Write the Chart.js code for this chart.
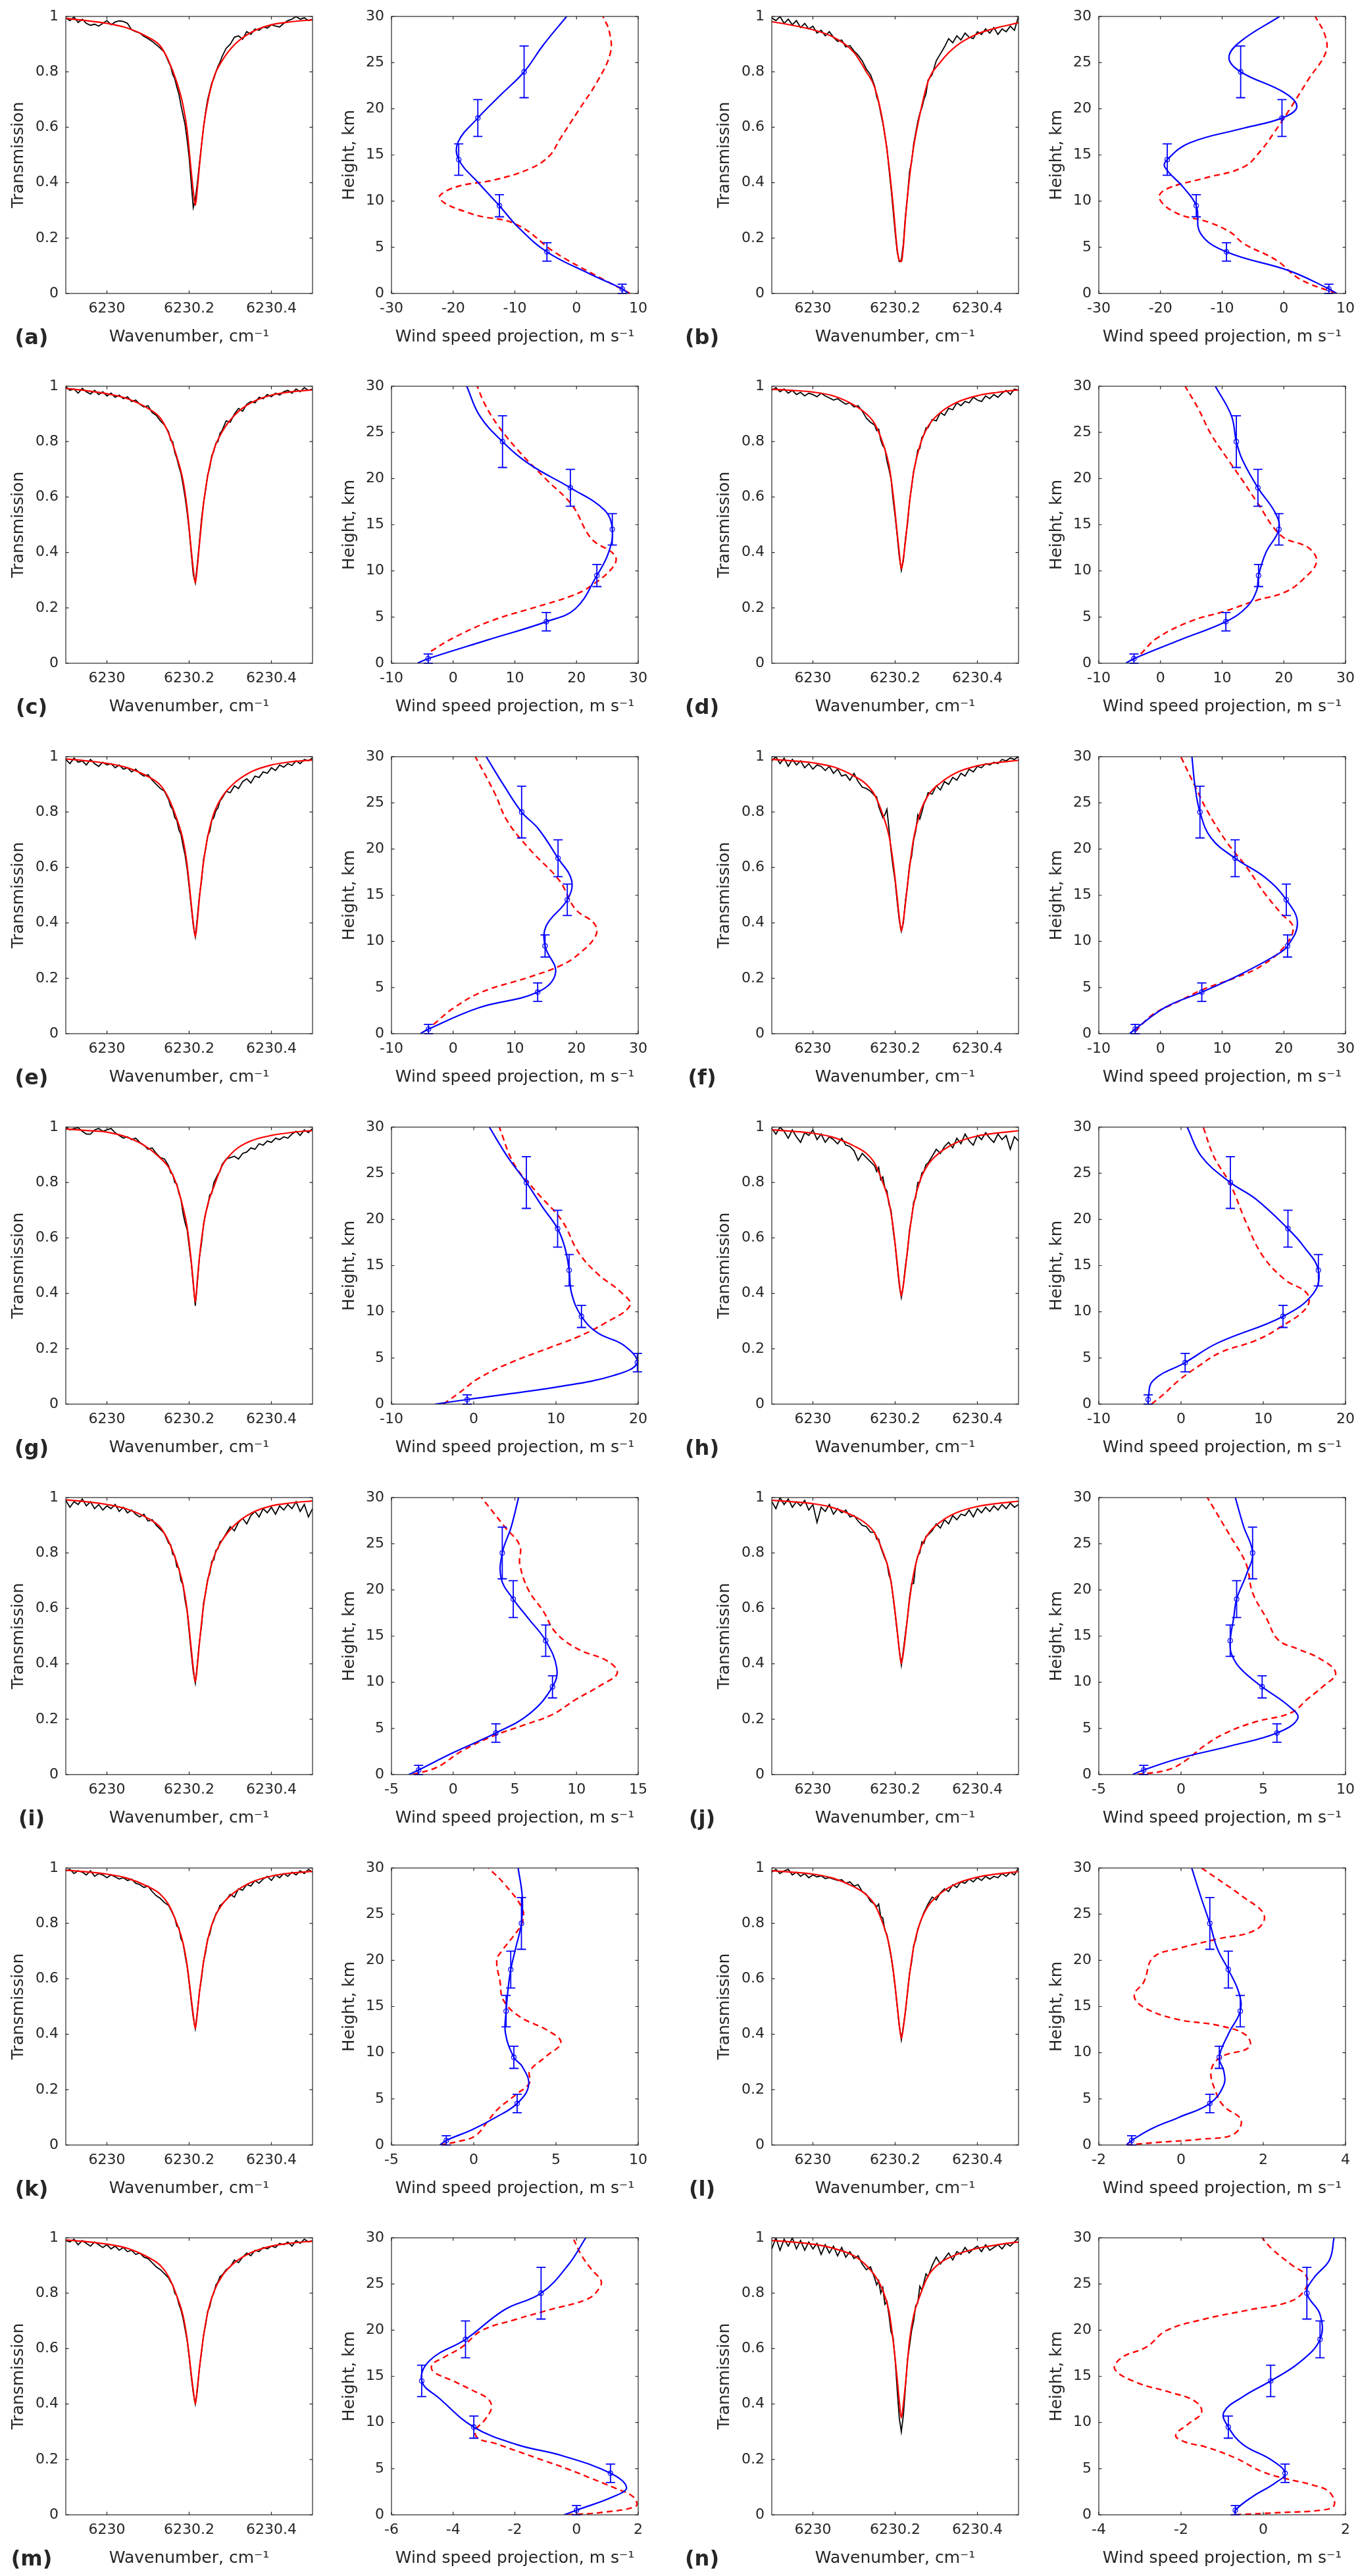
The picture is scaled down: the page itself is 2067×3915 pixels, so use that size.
<!DOCTYPE html>
<html><head><meta charset="utf-8">
<script src="https://cdn.jsdelivr.net/npm/chart.js@4.4.1/dist/chart.umd.min.js"></script>
<style>
html,body{margin:0;padding:0;background:#fff}
body{width:2067px;height:3915px;position:relative;overflow:hidden}
canvas{position:absolute}
.lab{position:absolute;font-family:"DejaVu Sans",sans-serif;font-weight:bold;font-size:32px;color:#262626;transform:translate(-50%,-50%);white-space:nowrap}
</style></head><body>
<script>
// ---------------- DATA ----------------
const PANELS = ['(a)','(b)','(c)','(d)','(e)','(f)','(g)','(h)','(i)','(j)','(k)','(l)','(m)','(n)'];

// wavenumber grid of the measured spectra (cm-1)
const SPEC_X = [6229.90,6229.91,6229.92,6229.93,6229.94,6229.95,6229.96,6229.97,6229.98,6229.99,6230.00,6230.01,6230.02,6230.03,6230.04,6230.05,6230.06,6230.07,6230.08,6230.09,6230.10,6230.11,6230.12,6230.13,6230.14,
6230.150,6230.155,6230.160,6230.165,6230.170,6230.175,6230.180,6230.185,6230.190,6230.195,6230.200,6230.205,6230.210,6230.215,6230.220,6230.225,6230.230,6230.235,6230.240,6230.245,6230.250,6230.255,6230.260,6230.265,6230.270,6230.275,
6230.28,6230.29,6230.30,6230.31,6230.32,6230.33,6230.34,6230.35,6230.36,6230.37,6230.38,6230.39,6230.40,6230.41,6230.42,6230.43,6230.44,6230.45,6230.46,6230.47,6230.48,6230.49,6230.50];

// measured transmission (black), one row per panel
const SPEC_OBS = [
[0.995,0.985,0.998,0.978,0.99,0.975,0.968,0.972,0.965,0.975,0.985,0.97,0.98,0.984,0.982,0.975,0.952,0.945,0.94,0.928,0.92,0.91,0.898,0.885,0.87, 0.835,0.82,0.79,0.775,0.745,0.72,0.68,0.645,0.61,0.555,0.49,0.40,0.31,0.34,0.40,0.47,0.535,0.60,0.655,0.70,0.73,0.76,0.775,0.80,0.82,0.835, 0.855,0.885,0.90,0.925,0.93,0.918,0.945,0.935,0.955,0.95,0.962,0.958,0.97,0.965,0.962,0.975,0.985,0.99,1.0,0.99,0.995,0.985,0.99],
[0.995,0.985,1.0,0.975,0.99,0.97,0.985,0.96,0.975,0.955,0.965,0.94,0.95,0.93,0.945,0.925,0.91,0.915,0.89,0.895,0.875,0.86,0.84,0.81,0.79, 0.75,0.71,0.69,0.65,0.615,0.57,0.525,0.45,0.38,0.30,0.22,0.15,0.115,0.12,0.18,0.28,0.35,0.44,0.475,0.54,0.58,0.62,0.65,0.67,0.70,0.72, 0.77,0.79,0.84,0.865,0.89,0.92,0.905,0.93,0.915,0.94,0.925,0.92,0.945,0.935,0.955,0.94,0.96,0.935,0.955,0.945,0.965,0.95,1.0],
[0.998,0.985,0.99,0.975,0.992,0.98,0.972,0.985,0.97,0.98,0.965,0.975,0.96,0.968,0.955,0.962,0.945,0.95,0.935,0.925,0.93,0.905,0.895,0.875,0.86, 0.835,0.805,0.80,0.76,0.74,0.71,0.685,0.645,0.60,0.545,0.48,0.40,0.32,0.29,0.36,0.44,0.52,0.58,0.625,0.68,0.705,0.75,0.765,0.795,0.80,0.83, 0.84,0.875,0.87,0.9,0.92,0.91,0.935,0.945,0.94,0.96,0.955,0.97,0.962,0.975,0.968,0.98,0.985,0.975,0.99,0.98,0.995,0.985,0.99],
[0.985,0.995,0.98,0.99,0.975,0.985,0.97,0.978,0.965,0.975,0.97,0.962,0.975,0.965,0.958,0.95,0.955,0.945,0.935,0.94,0.925,0.93,0.91,0.885,0.87, 0.86,0.84,0.845,0.805,0.785,0.775,0.73,0.70,0.665,0.59,0.53,0.46,0.385,0.335,0.37,0.45,0.50,0.585,0.635,0.695,0.725,0.77,0.775,0.815,0.825,0.85, 0.85,0.88,0.875,0.905,0.895,0.92,0.915,0.94,0.93,0.945,0.94,0.96,0.95,0.945,0.965,0.955,0.97,0.96,0.975,0.985,0.97,0.99,0.985],
[0.99,0.975,0.995,0.98,0.985,0.97,0.99,0.975,0.965,0.98,0.97,0.975,0.96,0.97,0.955,0.96,0.945,0.955,0.94,0.93,0.935,0.915,0.9,0.885,0.875, 0.845,0.82,0.81,0.78,0.77,0.735,0.72,0.68,0.645,0.595,0.53,0.46,0.39,0.35,0.42,0.50,0.55,0.63,0.665,0.715,0.73,0.77,0.78,0.805,0.815,0.84, 0.85,0.875,0.87,0.895,0.885,0.91,0.92,0.905,0.93,0.925,0.945,0.94,0.96,0.95,0.97,0.962,0.975,0.968,0.985,0.975,0.99,0.985,0.995],
[0.985,1.0,0.975,0.995,0.965,0.99,0.97,0.985,0.96,0.975,0.955,0.97,0.965,0.95,0.965,0.94,0.955,0.93,0.935,0.915,0.94,0.91,0.89,0.885,0.875, 0.86,0.855,0.82,0.80,0.78,0.79,0.81,0.74,0.66,0.60,0.55,0.475,0.41,0.37,0.40,0.48,0.535,0.61,0.64,0.70,0.73,0.79,0.775,0.80,0.83,0.845, 0.87,0.865,0.895,0.88,0.91,0.9,0.925,0.915,0.94,0.93,0.955,0.945,0.965,0.96,0.975,0.97,0.98,0.975,0.99,0.985,0.995,0.99,1.0],
[1.0,0.99,0.995,0.998,0.985,0.975,0.975,0.99,0.995,0.985,0.99,0.995,0.98,0.97,0.96,0.965,0.955,0.96,0.945,0.935,0.92,0.925,0.905,0.89,0.885, 0.86,0.835,0.83,0.80,0.795,0.76,0.74,0.69,0.655,0.63,0.57,0.51,0.43,0.355,0.44,0.53,0.58,0.65,0.69,0.715,0.755,0.76,0.80,0.815,0.83,0.84, 0.865,0.885,0.89,0.895,0.885,0.905,0.91,0.925,0.92,0.94,0.935,0.95,0.945,0.96,0.955,0.965,0.96,0.975,0.985,0.97,0.99,0.98,0.995],
[0.995,0.975,1.0,0.985,0.96,0.99,0.965,0.945,0.98,0.97,0.99,0.955,0.975,0.945,0.965,0.955,0.94,0.96,0.935,0.93,0.915,0.88,0.905,0.89,0.875, 0.86,0.84,0.855,0.81,0.82,0.78,0.77,0.72,0.70,0.63,0.575,0.50,0.43,0.385,0.43,0.50,0.55,0.63,0.67,0.73,0.745,0.80,0.80,0.835,0.84,0.865, 0.87,0.895,0.92,0.905,0.93,0.945,0.925,0.96,0.94,0.975,0.95,0.935,0.97,0.955,0.98,0.96,0.945,0.975,0.955,0.97,0.92,0.965,0.95],
[0.99,0.965,0.985,0.975,0.995,0.97,0.985,0.96,0.975,0.955,0.97,0.96,0.975,0.95,0.965,0.945,0.955,0.94,0.93,0.94,0.915,0.92,0.9,0.885,0.87, 0.835,0.83,0.795,0.79,0.75,0.745,0.70,0.685,0.63,0.59,0.515,0.44,0.37,0.33,0.40,0.48,0.535,0.62,0.655,0.705,0.725,0.77,0.775,0.81,0.815,0.84, 0.845,0.87,0.895,0.88,0.91,0.925,0.905,0.935,0.95,0.93,0.96,0.945,0.965,0.94,0.97,0.955,0.975,0.96,0.985,0.95,0.975,0.93,0.96],
[0.985,0.96,1.0,0.975,0.995,0.965,0.985,0.97,0.99,0.955,0.975,0.91,0.965,0.95,0.975,0.94,0.96,0.945,0.955,0.93,0.935,0.915,0.9,0.895,0.875, 0.875,0.85,0.85,0.82,0.80,0.78,0.765,0.72,0.70,0.64,0.58,0.515,0.45,0.395,0.45,0.51,0.565,0.64,0.69,0.69,0.76,0.79,0.80,0.84,0.835,0.86, 0.865,0.88,0.905,0.89,0.92,0.905,0.935,0.92,0.94,0.935,0.955,0.93,0.96,0.945,0.965,0.95,0.97,0.955,0.975,0.96,0.98,0.965,0.975],
[0.99,0.995,0.98,0.99,0.985,0.975,0.99,0.97,0.98,0.975,0.965,0.975,0.968,0.96,0.965,0.955,0.96,0.945,0.94,0.93,0.935,0.915,0.9,0.89,0.875, 0.865,0.85,0.835,0.82,0.79,0.785,0.745,0.73,0.685,0.645,0.585,0.52,0.46,0.42,0.48,0.555,0.60,0.665,0.695,0.745,0.76,0.795,0.81,0.835,0.845,0.865, 0.87,0.885,0.905,0.895,0.925,0.92,0.94,0.935,0.955,0.945,0.96,0.97,0.955,0.975,0.965,0.98,0.97,0.985,0.975,0.99,0.98,0.995,0.985],
[0.985,0.995,0.98,0.99,0.995,0.975,0.985,0.97,0.98,0.965,0.975,0.968,0.972,0.962,0.965,0.96,0.955,0.958,0.945,0.95,0.935,0.94,0.915,0.905,0.88, 0.87,0.86,0.87,0.825,0.82,0.775,0.76,0.72,0.68,0.63,0.57,0.50,0.43,0.38,0.43,0.48,0.55,0.62,0.66,0.72,0.74,0.78,0.80,0.82,0.84,0.855, 0.87,0.895,0.885,0.91,0.925,0.915,0.94,0.93,0.95,0.945,0.96,0.95,0.965,0.955,0.97,0.96,0.97,0.965,0.98,0.97,0.985,0.975,1.0],
[0.99,0.985,0.995,0.975,0.99,0.98,0.97,0.985,0.975,0.965,0.975,0.96,0.97,0.955,0.965,0.95,0.955,0.94,0.945,0.93,0.925,0.91,0.895,0.885,0.87, 0.855,0.84,0.83,0.80,0.79,0.76,0.74,0.71,0.67,0.63,0.57,0.50,0.44,0.40,0.45,0.53,0.585,0.65,0.685,0.735,0.75,0.785,0.80,0.83,0.84,0.86, 0.865,0.885,0.895,0.92,0.91,0.93,0.945,0.935,0.955,0.95,0.965,0.96,0.97,0.965,0.98,0.975,0.985,0.97,0.99,0.98,0.995,0.985,0.99],
[0.96,1.0,0.955,0.995,0.97,1.0,0.96,0.99,0.955,0.985,0.96,0.98,0.94,0.975,0.945,0.97,0.935,0.965,0.93,0.95,0.925,0.935,0.905,0.885,0.895, 0.855,0.83,0.845,0.80,0.82,0.76,0.77,0.72,0.66,0.64,0.56,0.45,0.35,0.30,0.36,0.46,0.56,0.61,0.665,0.70,0.755,0.765,0.825,0.81,0.84,0.87, 0.86,0.90,0.93,0.905,0.925,0.945,0.92,0.95,0.94,0.965,0.945,0.96,0.97,0.95,0.975,0.955,0.965,0.975,0.96,0.98,0.97,0.985,1.0]
];

// wavenumber grid of the model fit (red)
const FIT_X = [6229.90,6229.95,6230.00,6230.05,6230.10,6230.13,6230.15,6230.17,6230.185,6230.195,6230.205,6230.21,6230.215,6230.22,6230.225,6230.235,6230.245,6230.26,6230.28,6230.31,6230.35,6230.40,6230.45,6230.50];
const SPEC_FIT = [
[0.993,0.985,0.975,0.958,0.925,0.893,0.84,0.762,0.68,0.59,0.44,0.37,0.318,0.38,0.46,0.60,0.69,0.78,0.84,0.898,0.942,0.97,0.981,0.988],
[0.981,0.968,0.952,0.925,0.87,0.80,0.745,0.62,0.46,0.32,0.16,0.12,0.115,0.17,0.27,0.42,0.53,0.645,0.765,0.835,0.895,0.937,0.96,0.977],
[0.992,0.984,0.973,0.955,0.92,0.885,0.83,0.745,0.66,0.56,0.41,0.34,0.29,0.35,0.43,0.575,0.675,0.77,0.835,0.895,0.94,0.968,0.98,0.987],
[0.989,0.985,0.979,0.965,0.932,0.90,0.865,0.795,0.715,0.61,0.47,0.40,0.34,0.38,0.44,0.58,0.69,0.785,0.855,0.905,0.942,0.966,0.978,0.987],
[0.992,0.985,0.976,0.96,0.928,0.897,0.85,0.775,0.70,0.61,0.47,0.40,0.35,0.41,0.49,0.62,0.71,0.795,0.855,0.905,0.945,0.97,0.982,0.988],
[0.99,0.985,0.978,0.963,0.93,0.90,0.862,0.79,0.715,0.62,0.49,0.42,0.37,0.41,0.47,0.60,0.705,0.795,0.86,0.905,0.943,0.967,0.979,0.987],
[0.993,0.988,0.982,0.963,0.925,0.888,0.855,0.79,0.71,0.64,0.518,0.44,0.368,0.45,0.53,0.645,0.72,0.785,0.86,0.915,0.95,0.97,0.981,0.988],
[0.99,0.985,0.978,0.963,0.932,0.905,0.87,0.80,0.73,0.64,0.51,0.44,0.39,0.43,0.49,0.62,0.72,0.805,0.865,0.91,0.945,0.968,0.979,0.987],
[0.992,0.985,0.975,0.958,0.925,0.892,0.842,0.765,0.685,0.595,0.455,0.385,0.335,0.395,0.475,0.61,0.70,0.785,0.845,0.90,0.943,0.97,0.981,0.988],
[0.99,0.985,0.978,0.963,0.933,0.905,0.872,0.805,0.735,0.645,0.52,0.45,0.40,0.44,0.50,0.63,0.725,0.81,0.868,0.912,0.946,0.968,0.979,0.987],
[0.992,0.986,0.978,0.963,0.933,0.905,0.868,0.80,0.73,0.65,0.53,0.47,0.42,0.48,0.55,0.66,0.74,0.815,0.868,0.912,0.948,0.971,0.982,0.988],
[0.99,0.985,0.978,0.963,0.932,0.903,0.868,0.80,0.725,0.635,0.505,0.435,0.385,0.425,0.485,0.615,0.715,0.80,0.862,0.908,0.944,0.967,0.979,0.987],
[0.992,0.986,0.977,0.962,0.93,0.90,0.86,0.79,0.72,0.635,0.51,0.45,0.40,0.46,0.53,0.645,0.73,0.805,0.862,0.91,0.946,0.97,0.981,0.988],
[0.99,0.985,0.977,0.962,0.935,0.90,0.865,0.81,0.735,0.63,0.49,0.41,0.35,0.40,0.47,0.63,0.72,0.79,0.862,0.91,0.94,0.962,0.975,0.985]
];

// retrieved wind profile (blue), [speed m/s, height km]
const WIND_RETR = [
[[8.4,0],[7.4,0.5],[2.2,2.1],[-4.8,4.5],[-9.5,7.2],[-12.5,9.5],[-15.8,11.9],[-19.1,14.5],[-19.2,16.4],[-16.0,19.0],[-12.3,21.5],[-8.5,24.0],[-5.4,26.9],[-1.6,30]],
[[8.6,0],[7.3,0.5],[0.9,2.45],[-9.3,4.5],[-13.5,6.5],[-14.2,9.5],[-16.3,11.5],[-19.3,13.7],[-18.9,14.5],[-15.3,16.3],[-6.5,17.9],[-0.3,19.0],[2.1,20.2],[0.2,21.7],[-7.0,24.0],[-8.9,25.5],[-7.2,27.2],[-0.7,30]],
[[-5.8,0],[-4.05,0.5],[5.5,2.5],[15.1,4.5],[19.8,5.9],[23.3,9.5],[25.2,12.0],[25.8,14.5],[24.5,16.6],[19.0,19.0],[12.5,21.5],[8.0,24.0],[4.3,26.8],[2.2,30]],
[[-5.6,0],[-4.3,0.5],[3.25,2.55],[10.6,4.5],[14.0,6.1],[15.6,7.9],[15.9,9.5],[17.1,12.0],[19.2,14.5],[18.6,16.3],[15.8,19.0],[13.3,22.0],[12.3,24.0],[11.5,26.8],[8.9,30]],
[[-5.3,0],[-4.0,0.5],[4.1,2.8],[13.7,4.5],[16.6,6.6],[14.9,9.5],[15.1,11.7],[18.5,14.5],[19.2,16.6],[17.0,19.0],[13.8,22.2],[11.1,24.0],[8.3,26.8],[5.35,30]],
[[-5.0,0],[-4.1,0.5],[0.9,2.9],[6.7,4.5],[12.9,6.4],[18.6,8.45],[20.6,9.5],[22.2,12.0],[20.4,14.5],[17.0,16.9],[12.1,19.0],[8.2,21.2],[6.4,24.0],[5.6,26.8],[5.1,30]],
[[-4.7,0],[-0.8,0.5],[10.4,1.9],[17.0,3.1],[19.9,4.5],[18.2,6.4],[15.1,7.7],[13.1,9.5],[11.9,12.0],[11.6,14.5],[11.1,16.9],[10.2,19.0],[8.4,21.3],[6.4,24.0],[4.1,26.8],[1.9,30]],
[[-4.0,0],[-4.0,0.5],[-3.4,2.55],[0.5,4.5],[4.4,6.6],[12.4,9.5],[16.1,12.0],[16.7,14.5],[14.9,17.1],[13.0,19.0],[9.1,22.2],[6.0,24.0],[2.5,26.8],[0.75,30]],
[[-3.6,0],[-2.8,0.5],[-0.04,2.35],[3.46,4.5],[6.2,6.6],[8.05,9.5],[8.4,11.5],[7.5,14.5],[6.1,16.9],[4.87,19.0],[3.9,21.2],[3.98,24.0],[4.7,26.8],[5.3,30]],
[[-2.94,0],[-2.27,0.5],[-0.13,1.75],[3.0,3.1],[5.83,4.5],[7.1,6.1],[6.5,7.5],[4.93,9.5],[3.6,11.5],[3.06,13.1],[2.99,14.5],[3.2,16.95],[3.38,19.0],[3.96,21.6],[4.35,24.0],[3.8,26.9],[3.3,30]],
[[-2.06,0],[-1.67,0.5],[-0.1,1.66],[1.27,2.93],[2.64,4.5],[3.34,6.5],[2.95,8.5],[2.44,9.5],[1.93,12.1],[1.97,14.5],[2.1,17.1],[2.25,19.0],[2.56,21.4],[2.9,24.0],[2.95,26.9],[2.7,30]],
[[-1.33,0],[-1.2,0.5],[-0.7,1.8],[-0.05,3.0],[0.7,4.5],[1.04,6.5],[1.04,8.0],[0.93,9.5],[1.16,12.1],[1.44,14.5],[1.41,16.45],[1.15,19.0],[0.88,21.3],[0.7,24.0],[0.48,26.9],[0.26,30]],
[[-0.4,0],[0.0,0.5],[1.2,1.97],[1.62,2.96],[1.1,4.5],[-0.46,6.4],[-1.93,7.6],[-3.33,9.5],[-4.43,12.56],[-5.02,14.5],[-4.75,16.75],[-3.6,19.0],[-2.34,22.2],[-1.15,24.0],[-0.26,27.1],[0.3,30]],
[[-0.68,0],[-0.68,0.5],[-0.26,1.97],[0.29,3.45],[0.53,4.5],[0.21,5.9],[-0.49,7.6],[-0.85,9.5],[-0.96,11.1],[-0.49,12.8],[0.18,14.5],[0.88,16.5],[1.38,19.0],[1.38,21.7],[1.06,24.0],[1.22,25.6],[1.61,27.6],[1.72,30]]
];

// reference wind profile (red dashed), [speed m/s, height km]
const WIND_REF = [
[[8.7,0],[3.0,2.0],[-3.4,4.4],[-9.8,7.5],[-16.9,8.6],[-22.2,10.3],[-19.7,11.5],[-13.3,12.3],[-7.6,13.5],[-4.4,14.9],[-2.7,16.7],[0.2,19.7],[3.4,23.0],[5.5,26.1],[5.3,28.4],[4.3,30]],
[[8.5,0],[2.6,1.55],[-1.2,3.6],[-6.5,5.4],[-8.6,6.6],[-12.1,7.7],[-17.4,8.7],[-20.2,10.3],[-19.1,11.3],[-12.8,12.5],[-6.5,13.7],[-3.7,15.5],[-1.6,17.4],[0.9,19.9],[4.0,23.2],[6.8,26.1],[6.7,27.9],[5.1,30]],
[[-3.6,1.3],[-0.1,2.7],[6.2,4.6],[13.5,6.1],[19.2,7.3],[22.4,8.4],[26.0,10.5],[26.2,11.7],[22.4,13.5],[19.3,17.1],[15.1,19.9],[10.6,23.0],[7.2,25.8],[5.1,28.1],[3.9,30]],
[[-3.2,1.0],[-0.6,2.7],[5.1,4.6],[10.3,5.6],[15.5,6.8],[20.2,7.7],[23.3,9.2],[25.3,11.0],[24.0,12.5],[19.6,13.8],[15.5,17.6],[13.4,19.7],[10.8,22.2],[8.2,24.8],[6.1,27.6],[4.0,30]],
[[-3.2,1.0],[-0.1,2.7],[4.6,4.5],[12.2,6.1],[17.5,7.4],[20.3,8.6],[23.1,10.6],[22.9,11.9],[19.8,13.5],[17.2,16.6],[12.5,19.9],[8.8,23.0],[6.7,26.1],[3.6,30]],
[[-4.1,0.25],[-1.2,2.1],[2.5,3.35],[7.1,4.85],[12.3,6.1],[16.5,7.4],[20.1,9.45],[21.5,11.5],[19.6,13.0],[17.0,15.1],[13.9,18.1],[10.8,20.7],[7.7,24.0],[5.6,26.8],[3.3,30]],
[[-3.7,0],[-1.8,1.2],[0.6,2.8],[4.5,4.5],[9.2,6.1],[12.7,7.3],[15.8,8.7],[19.0,10.7],[17.8,12.2],[15.2,14.0],[12.8,16.35],[10.7,19.9],[7.6,23.0],[4.9,26.0],[3.1,30]],
[[-3.6,0],[-2.2,1.0],[-0.3,2.55],[2.1,4.1],[4.8,5.6],[9.1,6.9],[12.2,8.4],[15.3,10.5],[15.3,12.0],[12.6,13.5],[9.9,16.1],[7.9,19.7],[6.0,23.8],[4.0,26.8],[2.7,30]],
[[-3.3,0],[-1.3,0.8],[0.7,2.55],[3.1,4.1],[5.7,5.35],[8.05,6.5],[9.9,8.1],[12.0,9.7],[13.3,11.0],[12.5,12.3],[10.1,13.6],[8.3,15.4],[7.3,17.7],[6.1,20.0],[5.4,22.8],[5.4,24.8],[4.2,26.8],[2.3,30]],
[[-2.66,0],[-0.83,0.5],[0.26,1.5],[1.4,3.1],[2.6,4.4],[4.5,5.7],[6.7,6.7],[7.7,8.2],[8.6,9.5],[9.4,11.0],[8.4,12.6],[7.1,13.6],[5.9,14.6],[5.2,16.9],[4.35,19.7],[3.96,22.8],[3.0,25.8],[1.6,30]],
[[-2.06,0],[-0.9,0.4],[0.1,1.0],[0.9,2.7],[1.5,3.95],[2.6,5.5],[3.4,6.75],[3.4,8.0],[4.4,9.6],[5.3,11.1],[4.5,12.4],[2.8,13.9],[1.8,15.7],[1.6,17.7],[1.4,20.0],[1.7,21.0],[2.4,22.6],[2.95,24.1],[2.95,25.6],[1.9,28.2],[0.9,30]],
[[-1.33,0],[-0.52,0.3],[0.5,0.64],[1.27,1.15],[1.46,2.7],[1.04,4.2],[0.85,5.7],[0.73,8.0],[0.96,9.5],[1.66,10.6],[1.58,11.9],[0.96,12.9],[-0.13,13.65],[-0.9,14.9],[-1.14,16.2],[-0.9,17.7],[-0.68,20.3],[-0.05,21.3],[0.88,22.3],[1.82,23.3],[2.02,24.9],[1.5,26.9],[0.5,30]],
[[-0.3,0],[0.8,0.25],[1.94,0.98],[1.83,1.97],[1.2,2.96],[0.48,3.94],[-0.26,4.93],[-1.09,5.91],[-1.93,6.9],[-2.66,7.76],[-3.18,8.25],[-3.28,9.1],[-2.97,10.3],[-2.76,11.58],[-2.87,12.56],[-3.39,13.5],[-4.0,14.5],[-4.64,15.5],[-4.68,16.26],[-4.33,17.0],[-3.7,18.2],[-3.08,19.95],[-1.93,21.2],[-0.88,22.2],[0.37,23.4],[0.75,24.6],[0.79,25.4],[0.48,26.6],[0.16,28.1],[-0.09,29.8]],
[[-0.68,0],[0.44,0.25],[1.38,0.49],[1.72,1.0],[1.61,2.46],[1.22,3.2],[0.52,3.94],[-0.03,4.68],[-0.68,6.16],[-1.43,7.39],[-1.9,7.88],[-2.13,8.62],[-1.82,9.85],[-1.5,11.08],[-1.66,12.3],[-2.29,13.3],[-3.06,14.3],[-3.61,15.76],[-3.45,17.0],[-2.83,18.2],[-2.36,19.95],[-1.43,21.2],[-0.34,22.2],[0.68,23.15],[1.04,24.6],[1.04,25.9],[0.68,27.1],[0.21,28.8],[-0.03,30]]
];

// retrieval nodes with error bars
const ERR_H = [0.5, 4.5, 9.5, 14.5, 19, 24];       // km
const ERR_E = [0.5, 1.0, 1.2, 1.7, 2.0, 2.8];      // km (half length)
const ERR_V = [
[7.4,-4.8,-12.5,-19.1,-16.0,-8.5],
[7.3,-9.3,-14.2,-18.9,-0.3,-7.0],
[-4.05,15.1,23.3,25.8,19.0,8.0],
[-4.3,10.6,15.9,19.2,15.8,12.3],
[-4.0,13.7,14.9,18.5,17.0,11.1],
[-4.1,6.7,20.6,20.4,12.1,6.4],
[-0.8,19.9,13.1,11.6,10.2,6.4],
[-4.0,0.5,12.4,16.7,13.0,6.0],
[-2.8,3.46,8.05,7.5,4.87,3.98],
[-2.27,5.83,4.93,2.99,3.38,4.35],
[-1.67,2.64,2.44,1.97,2.25,2.9],
[-1.2,0.7,0.93,1.44,1.15,0.7],
[0.0,1.1,-3.33,-5.02,-3.6,-1.15],
[-0.68,0.53,-0.85,0.18,1.38,1.06]
];

// tick values / labels
const SPEC_XTICKS = [6230, 6230.2, 6230.4];
const SPEC_XLABELS = ['6230', '6230.2', '6230.4'];
const SPEC_YTICKS = [0, 0.2, 0.4, 0.6, 0.8, 1];
const SPEC_YLABELS = ['0', '0.2', '0.4', '0.6', '0.8', '1'];
const WIND_YTICKS = [0, 5, 10, 15, 20, 25, 30];
const WIND_XTICKS = [
[-30,-20,-10,0,10],[-30,-20,-10,0,10],
[-10,0,10,20,30],[-10,0,10,20,30],[-10,0,10,20,30],[-10,0,10,20,30],
[-10,0,10,20],[-10,0,10,20],
[-5,0,5,10,15],[-5,0,5,10],[-5,0,5,10],[-2,0,2,4],
[-6,-4,-2,0,2],[-4,-2,0,2]
];

// ---------------- LAYOUT / STYLE ----------------
const FONT = '"DejaVu Sans", "Liberation Sans", sans-serif';
const INK = '#262626';
const AXW = 100, AXH = 90, PT = 30, PR = 40, PW = 375, PH = 421;
const ROW0 = 24.5, ROWP = 562.8;
const SPEC_LEFT = [100, 1173], WIND_LEFT = [595, 1670];
const LAB_X = [48, 1067], LAB_DY = 487;

Chart.defaults.font.family = FONT;

function makeCanvas(plotL, plotT) {
  const c = document.createElement('canvas');
  const w = AXW + PW + PR, h = PT + PH + AXH;
  c.width = w; c.height = h;
  c.style.left = (plotL - AXW) + 'px'; c.style.top = (plotT - PT) + 'px';
  c.style.width = w + 'px'; c.style.height = h + 'px';
  document.body.appendChild(c);
  return c;
}

function axis(isX, min, max, ticks, labels, title, titlePad) {
  return {
    type: 'linear', min, max, bounds: 'data',
    afterBuildTicks: s => { s.ticks = ticks.map(v => ({ value: v })); },
    ticks: {
      autoSkip: false, maxRotation: 0, minRotation: 0,
      padding: isX ? 10 : 11, color: INK, font: { family: FONT, size: 22 },
      callback: v => { const i = ticks.indexOf(v); return i >= 0 ? labels[i] : ''; }
    },
    grid: { display: false, drawTicks: false },
    border: { display: false },
    title: { display: true, text: title, color: INK, font: { family: FONT, size: 25 }, padding: titlePad },
    afterFit: s => { if (isX) s.height = AXH; else s.width = AXW; }
  };
}

function framePlugin(errs) {
  return {
    id: 'frame',
    afterDatasetsDraw(chart) {
      const ctx = chart.ctx, a = chart.chartArea, xs = chart.scales.x, ys = chart.scales.y;
      ctx.save();
      if (errs) {
        ctx.strokeStyle = '#0000ff'; ctx.lineWidth = 1.8;
        ctx.beginPath();
        errs.v.forEach((xv, i) => {
          const px = xs.getPixelForValue(xv);
          const y1 = ys.getPixelForValue(errs.h[i] - errs.e[i]);
          const y2 = ys.getPixelForValue(errs.h[i] + errs.e[i]);
          ctx.moveTo(px, y1); ctx.lineTo(px, y2);
          ctx.moveTo(px - 7, y1); ctx.lineTo(px + 7, y1);
          ctx.moveTo(px - 7, y2); ctx.lineTo(px + 7, y2);
        });
        ctx.stroke();
      }
      ctx.strokeStyle = INK; ctx.lineWidth = 1.2;
      ctx.strokeRect(a.left, a.top, a.right - a.left, a.bottom - a.top);
      const L = 4.5;
      ctx.beginPath();
      xs.ticks.forEach(t => {
        const px = xs.getPixelForValue(t.value);
        ctx.moveTo(px, a.bottom); ctx.lineTo(px, a.bottom - L);
        ctx.moveTo(px, a.top); ctx.lineTo(px, a.top + L);
      });
      ys.ticks.forEach(t => {
        const py = ys.getPixelForValue(t.value);
        ctx.moveTo(a.left, py); ctx.lineTo(a.left + L, py);
        ctx.moveTo(a.right, py); ctx.lineTo(a.right - L, py);
      });
      ctx.stroke();
      ctx.restore();
    }
  };
}

const baseOpts = {
  responsive: false, animation: false, events: [],
  layout: { padding: { top: PT, right: PR, left: 0, bottom: 0 } },
  plugins: { legend: { display: false }, tooltip: { enabled: false } }
};

PANELS.forEach((name, p) => {
  const row = Math.floor(p / 2), col = p % 2;
  const plotT = Math.round(ROW0 + row * ROWP);

  // spectrum chart
  const c1 = makeCanvas(SPEC_LEFT[col], plotT);
  new Chart(c1, {
    type: 'scatter',
    data: { datasets: [
      { data: FIT_X.map((x, i) => ({ x, y: SPEC_FIT[p][i] })), showLine: true, borderColor: '#ff0000', borderWidth: 2.2, pointRadius: 0, cubicInterpolationMode: 'monotone' },
      { data: SPEC_X.map((x, i) => ({ x, y: SPEC_OBS[p][i] })), showLine: true, borderColor: '#000000', borderWidth: 1.8, pointRadius: 0, tension: 0 }
    ]},
    options: Object.assign({}, baseOpts, { scales: {
      x: axis(true, 6229.9, 6230.5, SPEC_XTICKS, SPEC_XLABELS, 'Wavenumber, cm\u207B\u00B9', { top: 0, bottom: 9 }),
      y: axis(false, 0, 1, SPEC_YTICKS, SPEC_YLABELS, 'Transmission', { top: 13, bottom: 0 })
    }}),
    plugins: [framePlugin(null)]
  });

  // wind profile chart
  const xt = WIND_XTICKS[p];
  const c2 = makeCanvas(WIND_LEFT[col], plotT);
  new Chart(c2, {
    type: 'scatter',
    data: { datasets: [
      { data: WIND_RETR[p].map(([x, y]) => ({ x, y })), showLine: true, borderColor: '#0000ff', borderWidth: 2.2, pointRadius: 0, tension: 0.4 },
      { data: ERR_V[p].map((x, i) => ({ x, y: ERR_H[i] })), showLine: false, pointRadius: 3.5, pointBorderWidth: 1.2, pointBorderColor: '#0000ff', pointBackgroundColor: 'rgba(0,0,0,0)' },
      { data: WIND_REF[p].map(([x, y]) => ({ x, y })), showLine: true, borderColor: '#ff0000', borderWidth: 2.4, borderDash: [9, 6], pointRadius: 0, tension: 0.4 }
    ]},
    options: Object.assign({}, baseOpts, { scales: {
      x: axis(true, xt[0], xt[xt.length - 1], xt, xt.map(String), 'Wind speed projection, m s\u207B\u00B9', { top: 0, bottom: 9 }),
      y: axis(false, 0, 30, WIND_YTICKS, WIND_YTICKS.map(String), 'Height, km', { top: 21, bottom: 0 })
    }}),
    plugins: [framePlugin({ v: ERR_V[p], h: ERR_H, e: ERR_E })]
  });

  // panel label
  const d = document.createElement('div');
  d.className = 'lab';
  d.textContent = name;
  d.style.left = LAB_X[col] + 'px';
  d.style.top = (plotT + LAB_DY) + 'px';
  document.body.appendChild(d);
});
</script>
</body></html>
